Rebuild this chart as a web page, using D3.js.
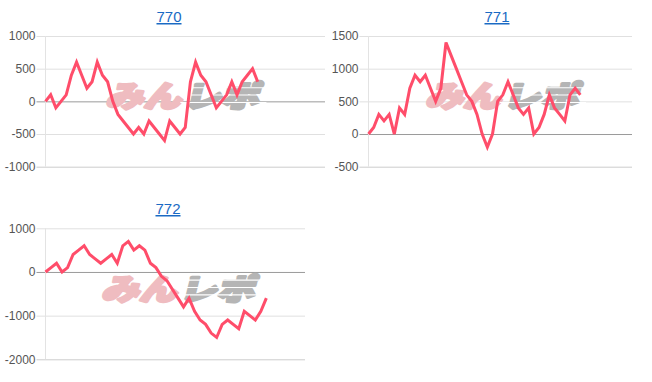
<!DOCTYPE html>
<html>
<head>
<meta charset="utf-8">
<script src="https://cdn.jsdelivr.net/npm/d3@7"></script>
<style>
  body { margin: 0; background: #fff; }
  svg { display: block; }
</style>
</head>
<body>
<svg id="chart" width="652" height="382"></svg>
<script>
// machine numbers (chart titles)
const titles = ["770", "771", "772"];

// values per machine
const data770 = [0, 100, -100, 0, 100, 400, 600, 400, 200, 300, 600, 400, 300, 0, -200, -300, -400, -500, -400, -500,
  -300, -400, -500, -600, -300, -400, -500, -400, 300, 600, 400, 300, 100, -100, 0, 100, 300, 100, 300, 400, 500, 300];
const data771 = [0, 100, 300, 200, 300, 0, 400, 300, 700, 900, 800, 900, 700, 500, 700, 1400, 1200, 1000, 800, 600,
  500, 300, 0, -200, 0, 500, 600, 800, 600, 400, 300, 400, 0, 100, 300, 600, 400, 300, 200, 600, 700, 600];
const data772 = [0, 100, 200, 0, 100, 400, 500, 600, 400, 300, 200, 300, 400, 200, 600, 700, 500, 600, 500, 200,
  100, -100, -200, -400, -600, -800, -600, -900, -1100, -1200, -1400, -1500, -1200, -1100, -1200, -1300, -900, -1000, -1100, -900, -600];

// y tick values
const ticks770 = [-1000, -500, 0, 500, 1000];
const ticks771 = [-500, 0, 500, 1000, 1500];
const ticks772 = [-2000, -1000, 0, 1000];

// number of x slots on each chart
const slots = [54, 51, 47];

const lineColor = "#ff4d6a";

const charts = [
  {title: titles[0], values: data770, ticks: ticks770, slots: slots[0], left: 45.5, right: 325, top: 36, bottom: 166.7, titleX: 169, titleY: 22},
  {title: titles[1], values: data771, ticks: ticks771, slots: slots[1], left: 368.5, right: 632, top: 36, bottom: 166.7, titleX: 497, titleY: 22},
  {title: titles[2], values: data772, ticks: ticks772, slots: slots[2], left: 45.5, right: 305, top: 228.3, bottom: 359.3, titleX: 168, titleY: 214}
];

const svg = d3.select("#chart");

charts.forEach(c => {
  const g = svg.append("g");

  const x = d3.scaleLinear().domain([0, c.slots]).range([c.left, c.right]);
  const y = d3.scaleLinear().domain(d3.extent(c.ticks)).range([c.bottom, c.top]);

  // title (link style)
  g.append("text")
    .attr("x", c.titleX)
    .attr("y", c.titleY)
    .attr("text-anchor", "middle")
    .attr("font-family", "Liberation Sans, Arial, sans-serif")
    .attr("font-size", 15)
    .attr("fill", "#1a6ac4")
    .attr("text-decoration", "underline")
    .text(c.title);

  // gridlines + labels
  const yAxis = d3.axisLeft(y)
    .tickValues(c.ticks)
    .tickSize(-(c.right - c.left + 9))
    .tickPadding(1)
    .tickFormat(d => String(d));

  const ax = g.append("g")
    .attr("transform", `translate(${c.left - 9},0)`)
    .call(yAxis);
  ax.select(".domain").remove();
  ax.selectAll(".tick line")
    .attr("stroke", d => d === 0 ? "#9a9a9a" : (d === c.ticks[0] ? "#cccccc" : "#e0e0e0"))
    .attr("stroke-width", 1);
  ax.selectAll(".tick text")
    .attr("font-family", "Liberation Sans, Arial, sans-serif")
    .attr("font-size", 12)
    .attr("fill", "#555");

  // vertical axis line
  g.append("line")
    .attr("x1", c.left).attr("x2", c.left)
    .attr("y1", c.top).attr("y2", c.bottom)
    .attr("stroke", "#e3e3e3");

  // watermark
  const wx = x(c.slots * 0.215);
  const wy = (c.top + c.bottom) / 2 + 6;
  const wm = g.append("g")
    .attr("transform", `translate(${wx},${wy}) skewX(-14) scale(1.05,0.82)`)
    .attr("font-family", "Noto Sans CJK JP, sans-serif")
    .attr("font-weight", 900)
    .attr("font-size", 36)
    .attr("stroke-linejoin", "round");
  wm.append("text")
    .attr("x", 0).attr("y", 0)
    .attr("fill", "#efbcc0")
    .attr("stroke", "#efbcc0")
    .attr("stroke-width", 3.5)
    .text("みん");
  wm.append("text")
    .attr("x", 74).attr("y", 0)
    .attr("fill", "#b5b5b5")
    .attr("stroke", "#b5b5b5")
    .attr("stroke-width", 3.5)
    .text("レポ");
  [-24, -15, -6].forEach(dy => {
    wm.append("line")
      .attr("x1", 70).attr("x2", 152)
      .attr("y1", dy).attr("y2", dy)
      .attr("stroke", "#fff")
      .attr("stroke-width", 1.3);
  });

  // data line
  const line = d3.line()
    .x((d, i) => x(i))
    .y(d => y(d));

  g.append("path")
    .datum(c.values)
    .attr("d", line)
    .attr("fill", "none")
    .attr("stroke", lineColor)
    .attr("stroke-width", 3)
    .attr("stroke-linejoin", "miter");
});
</script>
</body>
</html>
